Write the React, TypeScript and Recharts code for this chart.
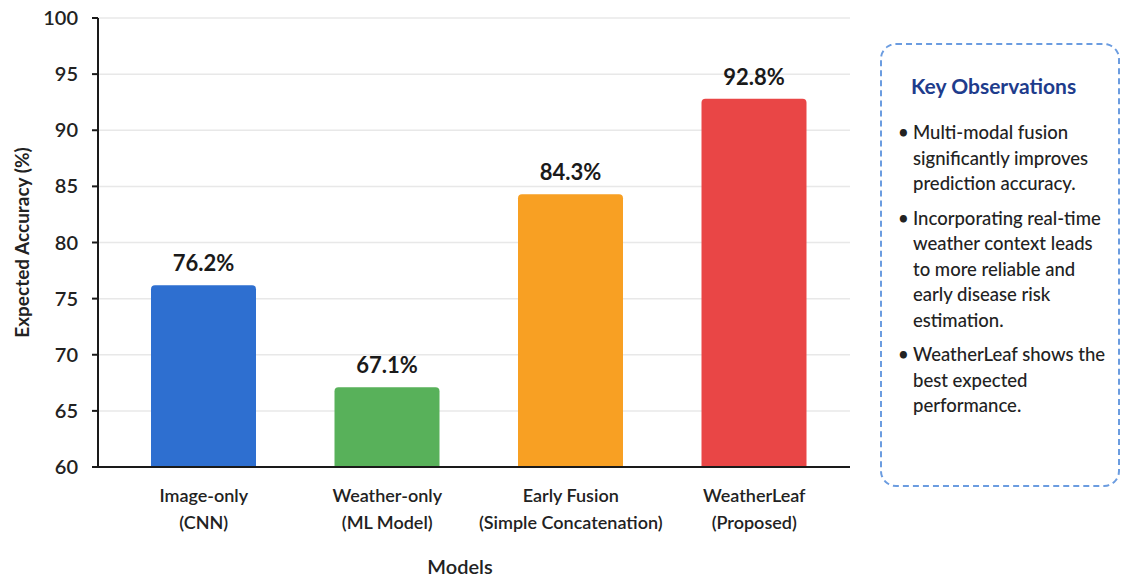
import { BarChart, Bar, XAxis, YAxis, CartesianGrid, Cell, LabelList } from 'recharts';

const modelNames = ['Image-only', 'Weather-only', 'Early Fusion', 'WeatherLeaf'];
const modelNotes = ['(CNN)', '(ML Model)', '(Simple Concatenation)', '(Proposed)'];
const accuracy = [76.2, 67.1, 84.3, 92.8];
const barColors = ['#2e6fd0', '#58b15a', '#f8a023', '#e94646'];
const yTicks = [60, 65, 70, 75, 80, 85, 90, 95, 100];
const observations = [
  'Multi-modal fusion significantly improves prediction accuracy.',
  'Incorporating real-time weather context leads to more reliable and early disease risk estimation.',
  'WeatherLeaf shows the best expected performance.',
];

const data = modelNames.map((name, i) => ({ name, note: modelNotes[i], value: accuracy[i] }));

const FONT = 'Lato, "Liberation Sans", sans-serif';

const ModelTick = (props: any) => {
  const { x, y, payload, index } = props;
  return (
    <g transform={`translate(${x},${y})`}>
      <text textAnchor="middle" fill="#222" fontSize={18} fontFamily={FONT} fontWeight={600}>
        <tspan x={0} dy={27}>{payload.value}</tspan>
        <tspan x={0} dy={27}>{modelNotes[index]}</tspan>
      </text>
    </g>
  );
};

export default function App() {
  return (
    <div style={{ position: 'fixed', left: 0, top: 0, width: 1122, height: 579, background: '#fff', fontFamily: FONT }}>
      <BarChart width={870} height={579} data={data} margin={{ top: 18, right: 20, bottom: 0, left: 0 }}>
        <CartesianGrid vertical={false} stroke="#e8e8e8" strokeWidth={1.5} />
        <XAxis
          dataKey="name"
          height={112}
          tick={<ModelTick />}
          tickLine={false}
          axisLine={{ stroke: '#1a1a1a', strokeWidth: 2 }}
          padding={{ left: 14, right: 4 }}
          interval={0}
          label={{ value: 'Models', position: 'insideBottom', offset: 5, dx: -14, fill: '#222', fontSize: 20, fontWeight: 600, fontFamily: FONT }}
        />
        <YAxis
          domain={[60, 100]}
          ticks={yTicks}
          width={98}
          tickSize={6}
          tickMargin={14}
          tickLine={{ stroke: '#1a1a1a', strokeWidth: 2 }}
          axisLine={{ stroke: '#1a1a1a', strokeWidth: 2 }}
          tick={{ fill: '#222', fontSize: 20, fontWeight: 600, fontFamily: FONT }}
          label={{
            value: 'Expected Accuracy (%)',
            angle: -90,
            position: 'insideLeft',
            offset: 22,
            style: { textAnchor: 'middle', fill: '#222', fontSize: 19, fontWeight: 700, fontFamily: FONT },
          }}
        />
        <Bar dataKey="value" barSize={105} radius={[4, 4, 0, 0]} isAnimationActive={false}>
          {data.map((d, i) => (
            <Cell key={d.name} fill={barColors[i]} />
          ))}
          <LabelList
            dataKey="value"
            position="top"
            offset={14}
            formatter={(v: any) => `${Number(v).toFixed(1)}%`}
            style={{ fill: '#1a1a1a', fontSize: 22, fontWeight: 700, fontFamily: FONT }}
          />
        </Bar>
      </BarChart>
      <div
        style={{
          position: 'absolute',
          left: 880,
          top: 43,
          width: 240,
          height: 444,
          boxSizing: 'border-box',
          border: '2px dashed #6b9ce0',
          borderRadius: 16,
          padding: '27px 4px 0 16px',
        }}
      >
        <div style={{ color: '#1e3c8c', fontSize: 21, fontWeight: 700, marginLeft: 13, marginBottom: 20, lineHeight: '28px' }}>
          Key Observations
        </div>
        {observations.map((t) => (
          <div key={t} style={{ display: 'flex', fontSize: 18.5, lineHeight: '25.5px', color: '#222', fontWeight: 500, marginBottom: 9 }}>
            <span style={{ width: 15, flexShrink: 0 }}>•</span>
            <span style={{ width: 205 }}>{t}</span>
          </div>
        ))}
      </div>
    </div>
  );
}
